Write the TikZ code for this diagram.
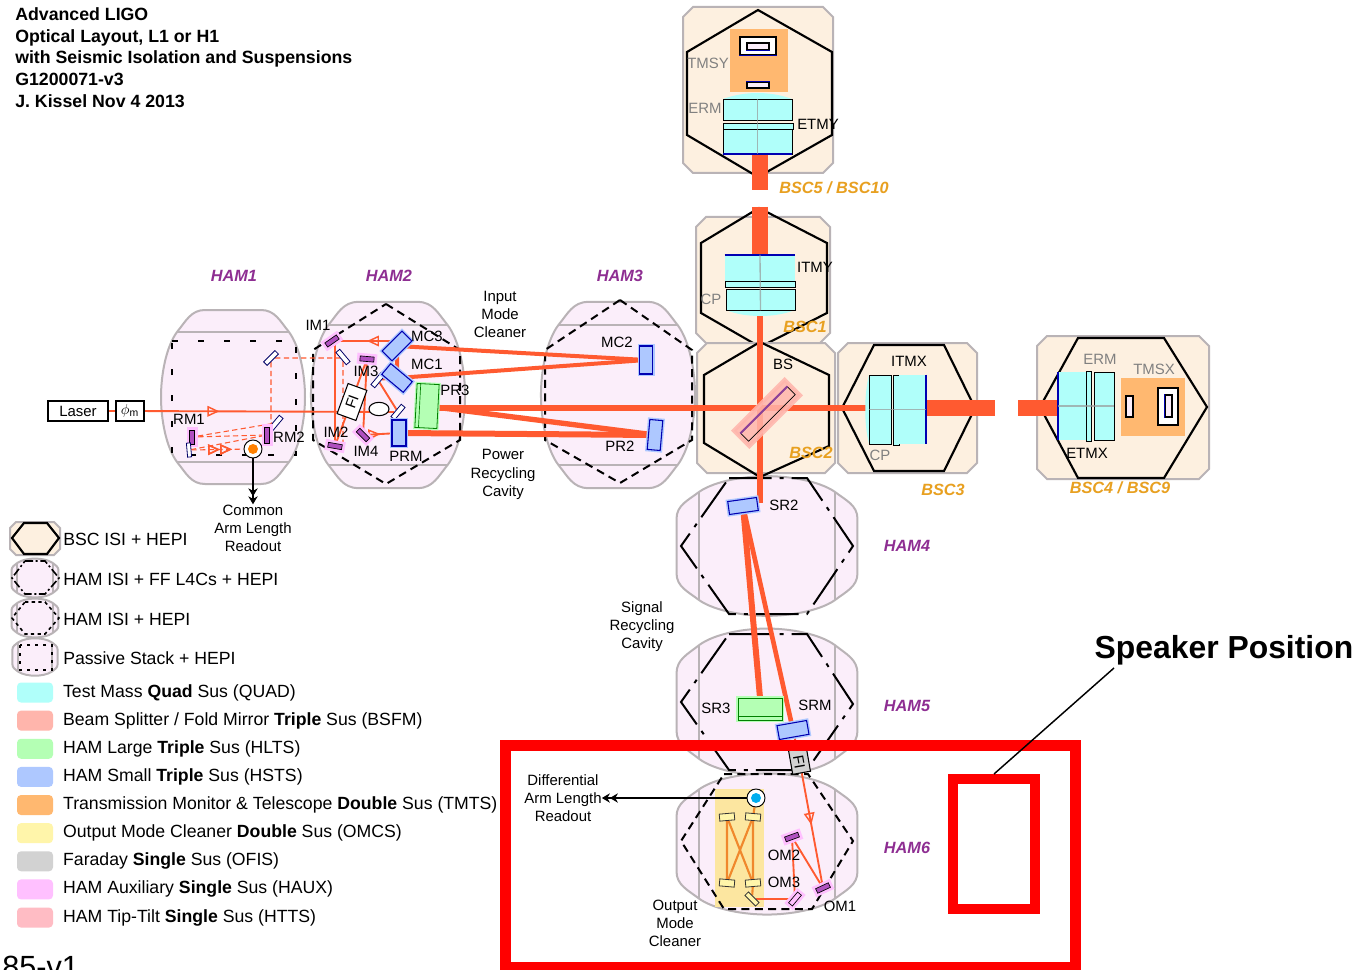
\documentclass[tikz,border=0pt]{standalone}
\usepackage{fontspec}
\setmainfont{Liberation Sans}
\usepackage{xcolor}
\usepackage{tikz}
\usetikzlibrary{shapes.geometric, arrows.meta, positioning, backgrounds, decorations.markings}
\definecolor{hampink}{HTML}{FBEEFA}
\definecolor{bsccream}{HTML}{FDF0E0}
\definecolor{tankgrey}{HTML}{B9B3B6}
\definecolor{beamred}{HTML}{FF5A30}
\definecolor{omcorange}{HTML}{F0882C}
\definecolor{hampurple}{HTML}{8E2E92}
\definecolor{bscorange}{HTML}{E8A020}
\definecolor{labelgrey}{HTML}{808080}
\definecolor{quadcyan}{HTML}{B0FFFA}
\definecolor{bsfmsalmon}{HTML}{FFB5AC}
\definecolor{hltsgreen}{HTML}{B4FFB4}
\definecolor{hstsblue}{HTML}{AEC8FF}
\definecolor{tmtsorange}{HTML}{FFB870}
\definecolor{omcsyellow}{HTML}{FFF5AA}
\definecolor{omcpanel}{HTML}{FCE6A0}
\definecolor{ofisgrey}{HTML}{D2D2D2}
\definecolor{hauxpink}{HTML}{FFC0FF}
\definecolor{httspink}{HTML}{FFBCC4}
\definecolor{hauxpurple}{HTML}{B050C0}
\tikzset{dims/.style 2 args={minimum width=#1*0.75pt, minimum height=#2*0.75pt, inner sep=0pt}}
\tikzstyle{tag} = [inner sep=0pt, font=\fontsize{11.2pt}{13.6pt}\selectfont, align=center]
\tikzstyle{greytag} = [tag, text=labelgrey]
\tikzstyle{hamtag} = [inner sep=0pt, text=hampurple, font=\fontsize{12.2pt}{14pt}\selectfont\bfseries\itshape]
\tikzstyle{bsctag} = [inner sep=0pt, text=bscorange, font=\fontsize{12.2pt}{14pt}\selectfont\bfseries\itshape]
\tikzstyle{legendtext} = [inner sep=0pt, anchor=west, font=\fontsize{13.25pt}{15pt}\selectfont]
\tikzstyle{keybox} = [rectangle, rounded corners=3pt, dims={36}{20}]
\tikzstyle{tankline} = [draw=tankgrey, fill=hampink, line width=1.5pt]
\tikzstyle{bscbox} = [draw=tankgrey, fill=bsccream, line width=1.5pt]
\tikzstyle{bschex} = [draw=black, line width=1.6pt]
\tikzstyle{sparsedash} = [draw=black, line width=1.7pt, dash pattern=on 4.5pt off 15pt]
\tikzstyle{hamdash} = [draw=black, line width=1.5pt, dash pattern=on 6pt off 4pt]
\tikzstyle{ffdash} = [draw=black, line width=1.5pt, dash pattern=on 32pt off 6pt on 3pt off 6pt]
\tikzstyle{beam} = [draw=beamred, line width=1.4pt]
\tikzstyle{beamdash} = [beam, line width=.8pt, dash pattern=on 4pt off 2.5pt]
\tikzstyle{omcbeam} = [draw=omcorange, line width=1.6pt]
\tikzstyle{smallmirror} = [rectangle, draw=black!60!blue, line width=.6pt, fill=white, dims={16}{5}]
\tikzstyle{purplemirror} = [rectangle, draw=black, line width=.5pt, fill=hauxpurple, dims={14}{5}, preaction={draw=hauxpink, line width=4.5pt}]
\tikzstyle{omcmirror} = [rectangle, draw=black!80, line width=.6pt, fill=omcsyellow, dims={15}{7}]
\tikzstyle{smalloptic} = [rectangle, draw=blue!70!black, line width=.8pt, fill=hstsblue, preaction={draw=hstsblue, line width=3pt}]
\tikzstyle{bigoptic} = [rectangle, draw=green!50!black, line width=.6pt, fill=hltsgreen, preaction={draw=hltsgreen, line width=2.5pt}]
\tikzstyle{glass} = [rectangle, draw=black, line width=.7pt, fill=quadcyan]
\tikzstyle{glassedge} = [draw=blue!70!black, line width=1.5pt]
\tikzstyle{glassaxis} = [draw=black!40, line width=1pt, opacity=.7]
\tikzstyle{tmsbox} = [rectangle, draw=black, line width=1pt, fill=white]
\tikzstyle{readout} = [draw=black, line width=.9pt, -{Stealth[length=6pt,width=7pt]Stealth[length=6pt,width=7pt]}]
\tikzset{hamtank/.pic={
    \draw[tankline] (-28,-87) -- (28,-87) .. controls (42,-87) and (47,-76) .. (56,-65)
        .. controls (67,-50) and (72,-22) .. (72,0) .. controls (72,22) and (67,50) .. (56,65)
        .. controls (47,76) and (42,87) .. (28,87) -- (-28,87) .. controls (-42,87) and (-47,76) .. (-56,65)
        .. controls (-67,50) and (-72,22) .. (-72,0) .. controls (-72,-22) and (-67,-50) .. (-56,-65)
        .. controls (-47,-76) and (-42,-87) .. (-28,-87) -- cycle;
    \draw[tankline] (-56,-65) -- (56,-65) (-56,65) -- (56,65);
}}
\tikzset{beamarrow/.style={postaction={decorate}, decoration={markings, mark=at position #1 with {\arrow{Triangle[open, length=9pt, width=8pt, line width=1.1pt]}}}}}

\begin{document}
\begin{tikzpicture}[x=0.75pt, y=-0.75pt, >=Stealth]
    \useasboundingbox (0,0) rectangle (1361,970);

    % tanks
    \begin{scope}[on background layer]
    \fill[white] (0,0) rectangle (1361,970);
    \pic (ham1) at (233,397) {hamtank};
    \pic (ham2) [scale=1.07] at (388,395) {hamtank};
    \pic (ham3) [scale=1.07] at (618,395) {hamtank};
    \pic (ham4) [rotate=90, xscale=.97, yscale=1.04] at (767,546) {hamtank};
    \pic (ham5) [rotate=90, xscale=1.02, yscale=1.04] at (767,702) {hamtank};
    \pic (ham6) [rotate=90, xscale=.98, yscale=1.04] at (767,844) {hamtank};

    \draw[sparsedash] (172,341) -- (296,341) -- (296,455) -- (172,455) -- cycle;
    \draw[hamdash] (386,304) -- (460,350) -- (460,440) -- (386,484) -- (313,440) -- (313,350) -- cycle;
    \draw[hamdash] (620,300) -- (692,350) -- (692,440) -- (620,483) -- (545,440) -- (545,350) -- cycle;
    \draw[ffdash] (729,478) -- (807,478) -- (853,546) -- (807,614) -- (729,614) -- (681,546) -- cycle;
    \draw[ffdash] (729,634) -- (807,634) -- (853,704) -- (807,770) -- (729,770) -- (681,702) -- cycle;
    \fill[omcpanel] (715,789) rectangle (764,907);
    \draw[hamdash] (724,774) -- (808,774) -- (853,841) -- (812,909) -- (724,909) -- (681,841) -- cycle;

    \draw[bscbox] (693,7) -- (823,7) -- (833,17) -- (833,163) -- (823,173) -- (693,173) -- (683,163) -- (683,17) -- cycle;
    \draw[bschex] (758,10) -- (832,52) -- (832,135) -- (758,177) -- (687,135) -- (687,52) -- cycle;
    \draw[bscbox] (706,217) -- (820,217) -- (830,227) -- (830,333) -- (820,343) -- (706,343) -- (696,333) -- (696,227) -- cycle;
    \draw[bschex] (759,208) -- (827,243) -- (827,313) -- (760,347) -- (701,313) -- (701,243) -- cycle;
    \draw[bscbox] (707,343) -- (825,343) -- (835,353) -- (835,463) -- (825,473) -- (707,473) -- (697,463) -- (697,353) -- cycle;
    \draw[bschex] (760,342) -- (829,375) -- (829,446) -- (760,477) -- (704,443) -- (704,375) -- cycle;
    \draw[bscbox] (848,343) -- (967,343) -- (977,353) -- (977,463) -- (967,473) -- (848,473) -- (838,463) -- (838,353) -- cycle;
    \draw[bschex] (842,408) -- (874,345) -- (944,345) -- (975,408) -- (944,471) -- (874,471) -- cycle;
    \draw[bscbox] (1047,336) -- (1199,336) -- (1209,346) -- (1209,469) -- (1199,479) -- (1047,479) -- (1037,469) -- (1037,346) -- cycle;
    \draw[bschex] (1040,407) -- (1078,338) -- (1164,338) -- (1207,407) -- (1164,478) -- (1078,478) -- cycle;
    \end{scope}

    % input optics
    \node (laser) [rectangle, draw=black, line width=.8pt, fill=white, dims={60}{20}, tag] at (78,411) {Laser};
    \node (phim) [rectangle, draw=black, line width=.8pt, fill=white, dims={28}{20}, tag] at (130,411) {$\phi_\mathrm{m}$};
    \node (st1) [smallmirror, rotate=45] at (271,358) {};
    \node (st2) [smallmirror, rotate=50] at (276,423) {};
    \node (rm1) [purplemirror, dims={14}{5}, rotate=90] at (192,437) {};
    \node (rm2) [purplemirror, dims={16}{5}, rotate=90] at (267,435) {};
    \node (rm3) [smallmirror, dims={14}{4}, rotate=95] at (189,450) {};
    \node (rmpd) [circle, draw=black, line width=.7pt, fill=white, minimum size=13.5pt, inner sep=0pt] at (253,449) {};
    \node (rmcore) [circle, fill=orange, minimum size=7.5pt, inner sep=0pt] at (253,449) {};
    \node (im1) [purplemirror, rotate=35] at (332,341) {};
    \node (st3) [smallmirror, rotate=-50] at (343,357) {};
    \node (im3) [purplemirror, rotate=-5] at (367,359) {};
    \node (st4) [smallmirror, rotate=50] at (378,380) {};
    \node (fi1) [rectangle, draw=black, line width=.8pt, fill=white, dims={32}{20}, tag, rotate=70] at (352,402) {FI};
    \node (lens) [ellipse, draw=black, line width=.8pt, fill=white, minimum width=15pt, minimum height=10pt, inner sep=0pt] at (379,409) {};
    \node (st5) [smallmirror, rotate=50] at (398,412) {};
    \node (im4) [purplemirror, rotate=-45] at (363,435) {};
    \node (im2) [purplemirror, rotate=-10] at (335,446) {};
    \node (mc3) [smalloptic, dims={28}{14}, rotate=45] at (397,346) {};
    \node (mc1) [smalloptic, dims={28}{14}, rotate=-40] at (397,378) {};
    \node (prm) [smalloptic, dims={14}{26}] at (399,433) {};
    \node (pr3) [bigoptic, dims={22}{44}, rotate=-3] at (427,406) {};
    \draw[green!50!black, line width=.5pt] ([xshift=3pt]pr3.north west) -- ([xshift=3pt]pr3.south west);
    \node (mc2) [smalloptic, dims={13}{28}] at (646,360) {};
    \node (pr2) [smalloptic, dims={13}{30}, rotate=-5] at (655,435) {};

    % end test masses
    \fill[quadcyan] (723,99) .. controls (745,91) and (770,91) .. (792,99) -- cycle;
    \fill[quadcyan] (726,310) .. controls (745,318) and (775,318) .. (795,310) -- cycle;
    \fill[quadcyan] (869,375) .. controls (864,395) and (864,424) .. (869,444) -- cycle;
    \fill[tmtsorange] (730,29) rectangle (788,92);
    \fill[tmtsorange] (1121,378) rectangle (1185,436);
    \node (tmsy) [tmsbox, dims={36}{18}] at (758,46) {};
    \node (tmsyin) [tmsbox, dims={22}{7}, fill=hampink] at (758,46.5) {};
    \node (tmsyl) [tmsbox, dims={22}{6}, fill=hampink] at (758,85) {};
    \node (ermy) [glass, dims={69}{21}] at (757.5,109.5) {};
    \node (etmy) [glass, dims={69}{30}] at (757.5,139) {};
    \node (etmystrip) [glass, dims={70}{6}] at (758,126) {};
    \node (itmy) [glass, draw=none, dims={70}{28}] at (760,269) {};
    \node (itmystrip) [glass, dims={70}{6}] at (760,284) {};
    \node (cpy) [glass, dims={69}{21}] at (760.5,299.5) {};
    \node (cpx) [glass, dims={22}{69}] at (880,409.5) {};
    \node (itmxstrip) [glass, dims={6}{70}] at (896,410) {};
    \node (itmx) [glass, draw=none, dims={27}{69}] at (912.5,409.5) {};
    \node (etmx) [glass, draw=none, dims={28}{68}] at (1072,406) {};
    \node (etmxstrip) [glass, dims={5}{70}] at (1088.5,406) {};
    \node (ermx) [glass, dims={20}{68}] at (1104,406) {};
    \node (tmsxl) [tmsbox, dims={7}{21}, fill=hampink] at (1129.5,406.5) {};
    \node (tmsx) [tmsbox, dims={20}{37}] at (1168,406.5) {};
    \node (tmsxin) [tmsbox, dims={7}{22}, fill=hampink] at (1168.5,406) {};
    \draw[glassedge] (etmy.south west) -- (etmy.south east);
    \draw[glassedge] (itmy.north west) -- (itmy.north east);
    \draw[glassedge] (itmx.north east) -- (itmx.south east);
    \draw[glassedge] (etmx.north west) -- (etmx.south west);
    \draw[glassedge, line width=.8pt] (tmsy.south west) -- (tmsy.south east);
    \draw[glassedge, line width=.8pt] (tmsyin.south west) -- (tmsyin.south east);
    \draw[glassedge, line width=.8pt] (tmsyl.north west) -- (tmsyl.north east);
    \draw[glassedge, line width=.8pt] (tmsxin.north west) -- (tmsxin.south west);
    \draw[glassaxis] (ermy.north) -- (etmy.south);
    \draw[glassaxis] (itmy.north) -- (cpy.south);
    \draw[glassaxis] (cpx.west) -- (itmx.east);
    \draw[glassaxis] (etmx.west) -- (ermx.east);

    % corner station
    \node (bs) [rectangle, draw=bsfmsalmon, line width=3pt, fill=bsfmsalmon, opacity=.85, dims={72}{22}, rotate=45] at (767,413) {};
    \node (bsin) [rectangle, draw=black, line width=.5pt, dims={66}{11}, rotate=45] at (768,414) {};
    \node (sr2) [smalloptic, dims={29}{13}, rotate=8] at (743,506) {};
    \node (sr3) [bigoptic, dims={44}{22}] at (760,709) {};
    \draw[green!50!black, line width=.5pt] ([yshift=3pt]sr3.south west) -- ([yshift=3pt]sr3.south east);
    \node (srm) [smalloptic, dims={30}{14}, rotate=10] at (793,730) {};
    \node (fi2) [rectangle, draw=black, line width=.8pt, fill=ofisgrey, dims={18}{30}, rotate=10] at (799,758) {};
    \node (fi2tag) [tag, rotate=-80] at (799,762) {FI};
    \draw[hauxpurple!80!black, line width=1.4pt] (bsin.north west) -- (bsin.north east);

    % output optics
    \node (omcpd) [circle, draw=black, line width=.7pt, fill=white, minimum size=13.5pt, inner sep=0pt] at (756,798) {};
    \node (omccore) [circle, fill=cyan, minimum size=7.5pt, inner sep=0pt] at (756,798) {};
    \node (omc1) [omcmirror, rotate=5] at (727,817) {};
    \node (omc2) [omcmirror, rotate=-5] at (753,817) {};
    \node (omc3) [omcmirror, rotate=-5] at (727,883) {};
    \node (omc4) [omcmirror, rotate=5] at (753,883) {};
    \node (omc5) [omcmirror, dims={15}{5}, rotate=-45] at (752,899) {};
    \node (om1) [purplemirror, rotate=25] at (823,888) {};
    \node (om2) [purplemirror, rotate=20] at (792,837) {};
    \node (om3) [purplemirror, rotate=50, fill=hauxpink] at (795,899) {};

    % beams
    \coordinate (yend) at (760,190);
    \coordinate (ystart) at (760,207);
    \coordinate (xaxis) at (760,408);
    \coordinate (xend) at (995,408);
    \coordinate (xstart) at (1018,408);
    \coordinate (srin) at (760,503);
    \begin{scope}[on background layer]
    \draw[beam] (laser) -- (phim);
    \draw[beam, beamarrow=.3] (phim) -- (st5);
    \draw[beam] (st5) -- (st4);
    \draw[beam] (st4) -- (mc1);
    \draw[beam, beamarrow=.5] (mc3 |- im1) -- (im1);
    \draw[beam] (im2 |- im1) -- (im2);
    \draw[beam] (im2) -- (im3);
    \draw[beam] (im3) -- (im4);
    \draw[beam, beamarrow=.55] (im4) -- (prm);
    \draw[beam, line width=3pt] (mc3) -- (mc2);
    \draw[beam, line width=3pt] (mc1) -- (mc2);
    \draw[beam, line width=3pt] (mc3) -- (mc1);
    \draw[beam, line width=4pt] (pr3) -- (pr2);
    \draw[beam, line width=4.5pt] (prm) -- (pr2);
    \draw[beam, line width=4.5pt] (pr3 |- xaxis) -- (cpx.west |- xaxis);
    \draw[beam, line width=4pt] (xaxis |- cpy.south) -- (srin);
    \draw[beam, line width=12.5pt] (yend |- etmy.south) -- (yend);
    \draw[beam, line width=12.5pt] (ystart) -- (ystart |- itmy.north);
    \draw[beam, line width=12pt] (itmx.east |- xend) -- (xend);
    \draw[beam, line width=12pt] (xstart) -- (etmx.west |- xstart);
    \draw[beam, line width=4.5pt] (sr2) -- (sr3.north);
    \draw[beam, line width=3.5pt] (sr2) -- (srm);
    \draw[beam] (srm) -- (fi2);
    \draw[beam, beamarrow=.46] (fi2) -- (om1);
    \draw[beam] (om1) -- (om2);
    \draw[beam] (om2) -- (om3);
    \draw[beam] (om3) -- (omc5);
    \draw[omcbeam] (omc5) -- (omc4);
    \draw[omcbeam] (omc1) -- (omc3);
    \draw[omcbeam] (omc2) -- (omc4);
    \draw[omcbeam] (omc1) -- (omc4);
    \draw[omcbeam] (omc2) -- (omc3);
    \draw[omcbeam] (omc2) -- (omcpd);
    \draw[beamdash] (st1) -- (st1 -| st3) -- (st3);
    \draw[beamdash] (st3) -- (st3 |- im2);
    \draw[beamdash] (st1) -- (st1 |- st2) -- (st2);
    \draw[beamdash] (st2) -- (rm1);
    \draw[beamdash] (rm2) -- (rm1);
    \draw[beamdash] (rm2) -- (rm3);
    \draw[beamdash, beamarrow=.55, beamarrow=.78] (rm3) -- (rmpd);
    \draw[omcbeam, draw=tmtsorange!70!red, line width=1pt] (tmsy) -- (tmsyl);
    \draw[omcbeam, draw=tmtsorange!70!red, line width=1pt] (tmsxl) -- (tmsx);
    \end{scope}

    % labels
    \node (title) [tag, align=left, anchor=north west, font=\fontsize{13.3pt}{16.2pt}\selectfont\bfseries] at (15,7.5) {Advanced LIGO\\Optical Layout, L1 or H1\\with Seismic Isolation and Suspensions\\G1200071-v3\\J. Kissel Nov 4 2013};
    \node (ham1tag) [hamtag] at (234,276) {HAM1};
    \node (ham2tag) [hamtag] at (389,276) {HAM2};
    \node (ham3tag) [hamtag] at (620,276) {HAM3};
    \node (ham4tag) [hamtag] at (907,546) {HAM4};
    \node (ham5tag) [hamtag] at (907,706) {HAM5};
    \node (ham6tag) [hamtag] at (907,848) {HAM6};
    \node (bsc5tag) [bsctag] at (834,188) {BSC5 / BSC10};
    \node (bsc1tag) [bsctag] at (805,327) {BSC1};
    \node (bsc2tag) [bsctag] at (811,453) {BSC2};
    \node (bsc3tag) [bsctag] at (943,490) {BSC3};
    \node (bsc4tag) [bsctag] at (1120,488) {BSC4 / BSC9};
    \node (rm1tag) [tag] at (189,419) {RM1};
    \node (rm2tag) [tag] at (289,437) {RM2};
    \node (im1tag) [tag] at (318,325) {IM1};
    \node (im2tag) [tag] at (336,432) {IM2};
    \node (im3tag) [tag] at (366,371) {IM3};
    \node (im4tag) [tag] at (366,451) {IM4};
    \node (mc3tag) [tag] at (427,336) {MC3};
    \node (mc1tag) [tag] at (427,364) {MC1};
    \node (pr3tag) [tag] at (455,390) {PR3};
    \node (prmtag) [tag] at (406,456) {PRM};
    \node (mc2tag) [tag] at (617,342) {MC2};
    \node (pr2tag) [tag] at (620,446) {PR2};
    \node (imctag) [tag] at (500,314.5) {Input\\Mode\\Cleaner};
    \node (prctag) [tag] at (503,474.5) {Power\\Recycling\\Cavity};
    \node (srctag) [tag] at (642,626.5) {Signal\\Recycling\\Cavity};
    \node (commonreadout) [tag] at (253,528) {Common\\Arm Length\\Readout};
    \node (diffreadout) [tag] at (563,798) {Differential\\Arm Length\\Readout};
    \node (omctag) [tag] at (675,923) {Output\\Mode\\Cleaner};
    \node (tmsytag) [greytag] at (708,63) {TMSY};
    \node (ermytag) [greytag] at (705,108) {ERM};
    \node (etmytag) [tag] at (818,124) {ETMY};
    \node (itmytag) [tag] at (815,267) {ITMY};
    \node (cpytag) [greytag] at (711,299) {CP};
    \node (bstag) [tag] at (783,364) {BS};
    \node (itmxtag) [tag] at (909,361) {ITMX};
    \node (cpxtag) [greytag] at (880,455) {CP};
    \node (ermxtag) [greytag] at (1100,359) {ERM};
    \node (tmsxtag) [greytag] at (1154,369) {TMSX};
    \node (etmxtag) [tag] at (1087,453) {ETMX};
    \node (sr2tag) [tag] at (784,505) {SR2};
    \node (sr3tag) [tag] at (716,708) {SR3};
    \node (srmtag) [tag] at (815,705) {SRM};
    \node (om2tag) [tag] at (784,855) {OM2};
    \node (om3tag) [tag] at (784,882) {OM3};
    \node (om1tag) [tag] at (840,906) {OM1};

    \draw[readout] (rmpd) -- (commonreadout.north);
    \draw[readout] (omcpd) -- (diffreadout.east);

    % legend
    \draw[bscbox] (16,522) -- (54,522) -- (60,528) -- (60,549) -- (54,555) -- (16,555) -- (10,549) -- (10,528) -- cycle;
    \draw[bschex] (12,538) -- (24,523) -- (47,523) -- (59,538) -- (47,554) -- (24,554) -- cycle;
    \pic (ffkey) [rotate=90, scale=.27] at (35,578) {hamtank};
    \draw[ffdash, dash pattern=on 6pt off 2pt on 1.5pt off 2pt, line width=1.2pt] (25,561) -- (45,561) -- (59,578) -- (45,594) -- (25,594) -- (12,578) -- cycle;
    \pic (isikey) [rotate=90, scale=.27] at (35,618) {hamtank};
    \draw[hamdash, dash pattern=on 2.5pt off 2.5pt, line width=1.2pt] (25,602) -- (45,602) -- (59,618) -- (45,634) -- (25,634) -- (12,618) -- cycle;
    \pic (passkey) [rotate=90, scale=.26] at (35,657) {hamtank};
    \draw[sparsedash, dash pattern=on 2.5pt off 3.5pt, line width=1.2pt] (20,645) rectangle (52,670);
    \node (bscisi) [legendtext] at (63,539) {BSC ISI + HEPI};
    \node (ffisi) [legendtext] at (63,579) {HAM ISI + FF L4Cs + HEPI};
    \node (hamisi) [legendtext] at (63,619) {HAM ISI + HEPI};
    \node (passive) [legendtext] at (63,658) {Passive Stack + HEPI};

    \begin{scope}[node distance=5.7pt]
    \node (quadkey) [keybox, fill=quadcyan] at (35,692.5) {};
    \node (bsfmkey) [keybox, fill=bsfmsalmon, below=of quadkey] {};
    \node (hltskey) [keybox, fill=hltsgreen, below=of bsfmkey] {};
    \node (hstskey) [keybox, fill=hstsblue, below=of hltskey] {};
    \node (tmtskey) [keybox, fill=tmtsorange, below=of hstskey] {};
    \node (omcskey) [keybox, fill=omcsyellow, below=of tmtskey] {};
    \node (ofiskey) [keybox, fill=ofisgrey, below=of omcskey] {};
    \node (hauxkey) [keybox, fill=hauxpink, below=of ofiskey] {};
    \node (httskey) [keybox, fill=httspink, below=of hauxkey] {};
    \end{scope}
    \begin{scope}[node distance=7.2pt]
    \node (quadtext) [legendtext, right=of quadkey] {Test Mass \textbf{Quad} Sus (QUAD)};
    \node (bsfmtext) [legendtext, right=of bsfmkey] {Beam Splitter / Fold Mirror \textbf{Triple} Sus (BSFM)};
    \node (hltstext) [legendtext, right=of hltskey] {HAM Large \textbf{Triple} Sus (HLTS)};
    \node (hststext) [legendtext, right=of hstskey] {HAM Small \textbf{Triple} Sus (HSTS)};
    \node (tmtstext) [legendtext, right=of tmtskey] {Transmission Monitor \& Telescope \textbf{Double} Sus (TMTS)};
    \node (omcstext) [legendtext, right=of omcskey] {Output Mode Cleaner \textbf{Double} Sus (OMCS)};
    \node (ofistext) [legendtext, right=of ofiskey] {Faraday \textbf{Single} Sus (OFIS)};
    \node (hauxtext) [legendtext, right=of hauxkey] {HAM Auxiliary \textbf{Single} Sus (HAUX)};
    \node (httstext) [legendtext, right=of httskey] {HAM Tip-Tilt \textbf{Single} Sus (HTTS)};
    \end{scope}
    \node (docnum) [inner sep=0pt, anchor=base west, font=\fontsize{23pt}{25pt}\selectfont] at (2,977) {85-v1};

    % speaker overlay
    \draw[red, line width=8.25pt] (505.5,745.5) rectangle (1075.5,967);
    \node (speakerbox) [rectangle, draw=red, line width=7.5pt, dims={82}{130}] at (994,844) {};
    \node (speakerlabel) [inner sep=0pt, font=\fontsize{23.9pt}{26pt}\selectfont\bfseries] at (1224,650) {Speaker Position};
    \coordinate (leaderstart) at (1114,668);
    \draw[black, line width=1.1pt] (leaderstart) -- (speakerbox.north);
\end{tikzpicture}
\end{document}
